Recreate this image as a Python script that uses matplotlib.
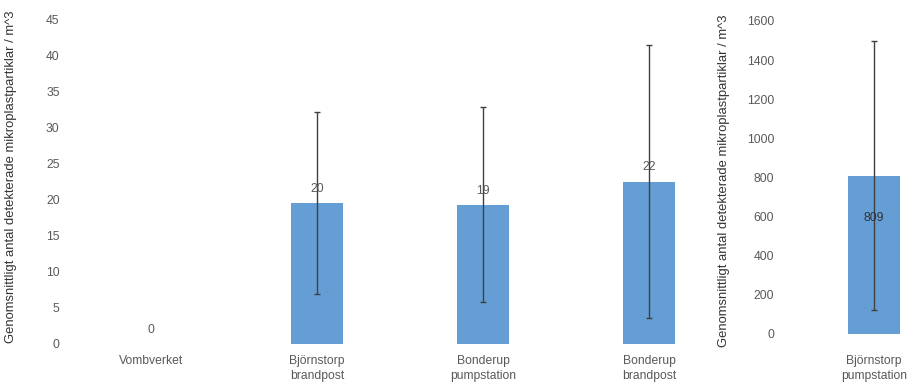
import numpy as np
import matplotlib
matplotlib.use("Agg")
import matplotlib.pyplot as plt

plt.rcParams["font.family"] = ["Liberation Sans", "DejaVu Sans"]

# left panel
sites = ["Vombverket", "Björnstorp\nbrandpost", "Bonderup\npumpstation", "Bonderup\nbrandpost"]
means = [0, 19.5, 19.3, 22.5]
errs = [0, 12.6, 13.5, 18.9]
labels = ["0", "20", "19", "22"]

# right panel
site_r = ["Björnstorp\npumpstation"]
mean_r = [809]
err_r = [688]
label_r = ["809"]

BAR = "#659ED4"
ERR = "#404040"
TXT = "#595959"
YLABEL = "Genomsnittligt antal detekterade mikroplastpartiklar / m^3"
FS = 8.7

fig = plt.figure(figsize=(9.13, 3.85), dpi=100)
ax1 = fig.add_axes([68 / 913, 41 / 385, 664 / 913, 325 / 385])
ax2 = fig.add_axes([791 / 913, 51 / 385, 122 / 913, 313 / 385])


def style(ax):
    for s in ax.spines.values():
        s.set_visible(False)
    ax.tick_params(length=0, labelsize=FS, colors=TXT)


x = np.arange(len(sites))
ax1.bar(x, means, width=0.31, color=BAR)
ax1.errorbar(x[1:], means[1:], yerr=errs[1:], fmt="none", ecolor=ERR,
             elinewidth=1, capsize=2.5, capthick=1)
for xi, m, lab in zip(x, means, labels):
    ax1.annotate(lab, (xi, m), xytext=(0, 14), textcoords="offset pixels",
                 ha="center", va="center", fontsize=FS, color=TXT)
ax1.set_xlim(-0.5, 3.5)
ax1.set_ylim(0, 45)
ax1.set_yticks(np.arange(0, 46, 5))
ax1.set_xticks(x)
ax1.set_xticklabels(sites, color="#333333", linespacing=1.35)
ax1.tick_params(axis="x", pad=8)
ax1.tick_params(axis="y", pad=6)
ax1.set_ylabel(YLABEL, fontsize=9.4, color="#333333")
ax1.yaxis.set_label_coords(-0.077, 0.515)
style(ax1)

xr = np.arange(len(site_r))
ax2.bar(xr, mean_r, width=0.31, color=BAR)
ax2.errorbar(xr, mean_r, yerr=err_r, fmt="none", ecolor=ERR,
             elinewidth=1, capsize=2.5, capthick=1)
for xi, m, lab in zip(xr, mean_r, label_r):
    ax2.annotate(lab, (xi, m), xytext=(0, -42), textcoords="offset pixels",
                 ha="center", va="center", fontsize=FS, color="#333333")
ax2.set_xlim(-0.5, 122 / 166 - 0.5)
ax2.set_ylim(0, 1600)
ax2.set_yticks(np.arange(0, 1601, 200))
ax2.set_xticks(xr)
ax2.set_xticklabels(site_r, color="#333333", linespacing=1.35)
ax2.tick_params(axis="x", pad=15)
ax2.tick_params(axis="y", pad=12)
ax2.set_ylabel(YLABEL, fontsize=9.4, color="#333333")
ax2.yaxis.set_label_coords(-0.5, 0.49)
style(ax2)

fig.savefig("out.png", dpi=100)
